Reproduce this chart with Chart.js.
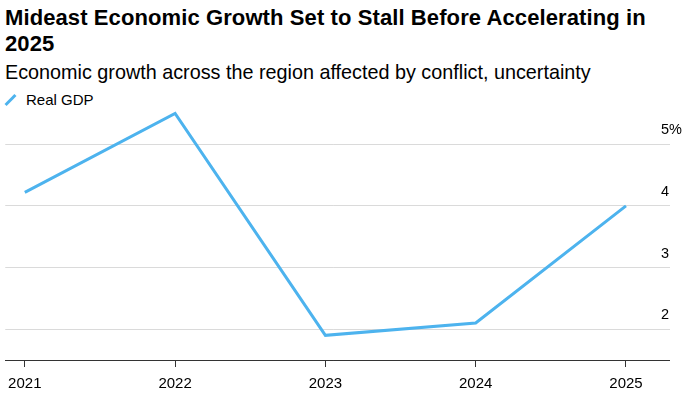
<!DOCTYPE html>
<html>
<head>
<meta charset="utf-8">
<script src="https://cdn.jsdelivr.net/npm/chart.js@4"></script>
<style>
  html, body { margin: 0; padding: 0; background: #fff; }
  body { width: 697px; height: 398px; position: relative; overflow: hidden; font-family: "Liberation Sans", Arial, sans-serif; color: #000; }
  #chart { position: absolute; left: 0; top: 0; }
  .title { position: absolute; left: 5px; top: 5px; font-size: 22px; font-weight: bold; line-height: 26px; letter-spacing: 0.1px; white-space: nowrap; }
  .subtitle { position: absolute; left: 5px; top: 60px; font-size: 19.8px; line-height: 24px; white-space: nowrap; }
  .legend { position: absolute; left: 5px; top: 91px; font-size: 15px; line-height: 18px; }
  .legend .mark { position: absolute; left: 4px; top: 2px; width: 3px; height: 14px; background: #4db3ee; transform: rotate(45deg); }
  .legend span.txt { position: absolute; left: 21px; top: 0; white-space: nowrap; }
</style>
</head>
<body>
<div class="title">Mideast Economic Growth Set to Stall Before Accelerating in<br>2025</div>
<div class="subtitle">Economic growth across the region affected by conflict, uncertainty</div>
<div class="legend"><div class="mark"></div><span class="txt">Real GDP</span></div>
<canvas id="chart" width="697" height="398"></canvas>
<script>
// data
const years = [2021, 2022, 2023, 2024, 2025];
const realGdp = [4.22, 5.5, 1.9, 2.1, 4.0];
const yTicks = [1.5, 2, 3, 4, 5];   // 1.5 = floor line, no label

const lineColor = '#4db3ee';

const ctx = document.getElementById('chart').getContext('2d');
new Chart(ctx, {
    type: 'line',
    data: {
        datasets: [{
            label: 'Real GDP',
            data: years.map((y, i) => ({ x: y, y: realGdp[i] })),
            borderColor: lineColor,
            borderWidth: 3,
            pointRadius: 0,
            tension: 0,
            fill: false
        }]
    },
    options: {
        responsive: false,
        animation: false,
        layout: { padding: { left: 4, right: 0, top: 98, bottom: 0 } },
        plugins: {
            legend: { display: false },
            tooltip: { enabled: false }
        },
        scales: {
            x: {
                type: 'linear',
                min: 2020.87,
                max: 2025.233,
                afterBuildTicks: (scale) => { scale.ticks = years.map(v => ({ value: v })); },
                afterFit: (scale) => { scale.height = 38; },
                grid: { drawOnChartArea: false, tickLength: 7, color: '#333' },
                border: { color: '#333', width: 1 },
                ticks: {
                    color: '#000',
                    padding: 8,
                    maxRotation: 0,
                    autoSkip: false,
                    font: { family: 'Liberation Sans', size: 15 },
                    callback: (v) => String(v)
                }
            },
            y: {
                position: 'right',
                min: 1.5,
                max: 5.75,
                afterBuildTicks: (scale) => { scale.ticks = yTicks.map(v => ({ value: v })); },
                afterFit: (scale) => { scale.width = 36; },
                grid: {
                    color: (c) => c.tick && c.tick.value === 1.5 ? '#333' : '#dadada',
                    drawTicks: true,
                    tickLength: 9,
                    lineWidth: 1
                },
                border: { display: false },
                ticks: {
                    color: '#000',
                    padding: -9,
                    labelOffset: -14,
                    font: { family: 'Liberation Sans', size: 14.5 },
                    callback: (v) => v === 1.5 ? '' : (v === 5 ? '5%' : String(v))
                }
            }
        }
    }
});
</script>
</body>
</html>
